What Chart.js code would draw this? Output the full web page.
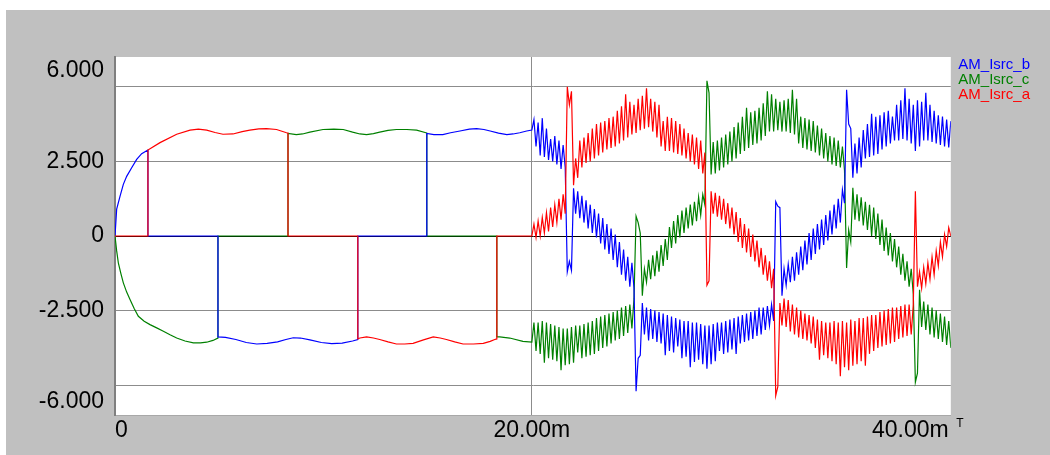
<!DOCTYPE html>
<html>
<head>
<meta charset="utf-8">
<title>AM_Isrc phase currents</title>
<script src="https://cdn.jsdelivr.net/npm/chart.js@4.4.1/dist/chart.umd.min.js"></script>
<style>
  html, body { margin: 0; padding: 0; background: #ffffff; }
  canvas { display: block; }
</style>
</head>
<body>
<canvas id="chart" width="1050" height="455"></canvas>
<script>
// Three phase source currents (A) against time (ms).
const seriesNames  = ['AM_Isrc_b', 'AM_Isrc_c', 'AM_Isrc_a'];
const seriesColors = ['#0000ff', '#008000', '#ff0000'];

const xTickValues = [0, 20, 40];
const xTickLabels = ['0', '20.00m', '40.00m'];
const yTickValues = [-6, -5, -2.5, 0, 2.5, 5, 6];
const yTickLabels = ['-6.000', '', '-2.500', '0', '2.500', '', '6.000'];

// Start-up interval 0..20 ms: smooth block currents with instant hand-overs.
const bStartT = [0, 0.08, 0.24, 0.4, 0.56, 0.8, 1.04, 1.28, 1.58, 1.58,
  4.94, 4.94, 5.3, 5.8, 6.3, 6.8, 7.3, 7.8, 8.2, 8.55,
  8.9, 9.35, 9.9, 10.4, 10.9, 11.4, 11.65, 11.65, 14.96, 14.96,
  15.3, 15.73, 16.1, 16.55, 17.0, 17.35, 17.7, 18.0, 18.4, 18.8,
  19.1, 19.42, 19.75, 20.0];
const bStartI = [0, 0.9, 1.33, 1.73, 2.0, 2.29, 2.57, 2.76, 2.88, 0,
  0, -3.38, -3.4, -3.47, -3.57, -3.62, -3.6, -3.55, -3.47, -3.41,
  -3.42, -3.48, -3.57, -3.61, -3.59, -3.52, -3.47, 0, 0, 3.44,
  3.4, 3.4, 3.46, 3.52, 3.58, 3.6, 3.57, 3.52, 3.45, 3.4,
  3.42, 3.46, 3.52, 3.55];

const cStartT = [0, 0.08, 0.16, 0.28, 0.4, 0.56, 0.72, 0.92, 1.12, 1.4,
  1.68, 2.0, 2.32, 2.64, 2.96, 3.36, 3.76, 4.1, 4.4, 4.7,
  4.94, 4.94, 8.3, 8.3, 8.7, 9.0, 9.35, 9.98, 10.5, 10.95,
  11.4, 11.75, 12.07, 12.4, 12.7, 13.1, 13.5, 14.0, 14.47, 14.92,
  14.96, 14.96, 18.32, 18.32, 18.46, 18.94, 19.57, 20.0];
const cStartI = [0, -0.5, -0.9, -1.25, -1.57, -1.88, -2.13, -2.43, -2.69, -2.86,
  -2.97, -3.08, -3.19, -3.31, -3.42, -3.52, -3.58, -3.58, -3.56, -3.5,
  -3.42, 0, 0, 3.44, 3.4, 3.42, 3.48, 3.57, 3.58, 3.57,
  3.48, 3.42, 3.4, 3.43, 3.48, 3.54, 3.57, 3.57, 3.55, 3.46,
  3.45, 0, 0, -3.38, -3.38, -3.42, -3.53, -3.56];

const aStartT = [0, 1.58, 1.58, 2.16, 2.96, 3.6, 4.0, 4.4, 4.8, 5.18,
  5.66, 6.1, 6.47, 6.9, 7.27, 7.75, 8.23, 8.3, 8.3, 11.65,
  11.65, 11.75, 12.07, 12.4, 12.7, 13.1, 13.5, 13.9, 14.3, 14.8,
  15.27, 15.6, 15.9, 16.3, 16.7, 17.2, 17.67, 18.0, 18.22, 18.32,
  18.32, 20.0];
const aStartI = [0, 0, 2.88, 3.13, 3.41, 3.55, 3.58, 3.55, 3.47, 3.41,
  3.42, 3.5, 3.55, 3.59, 3.6, 3.57, 3.46, 3.45, 0, 0,
  -3.45, -3.42, -3.38, -3.42, -3.47, -3.55, -3.62, -3.62, -3.6, -3.48,
  -3.38, -3.42, -3.47, -3.55, -3.62, -3.62, -3.6, -3.53, -3.47, -3.45,
  0, 0];

// Switching interval: samples every 0.1 ms from 20.1 ms to 40.1 ms.
const rippleT0 = 20.1;
const rippleDt = 0.1;

const bRipple = [
  3.9, 3.0, 3.8, 2.7, 3.95, 2.65, 3.6, 2.55, 3.25, 2.5,
  3.35, 2.4, 3.2, 2.25, 3.05, 2.3, -1.2, -0.85, -1.15, 1.6,
  0.75, 1.5, 0.6, 1.35, 0.45, 1.2, 0.25, 1.05, 0.1, 0.9,
  -0.05, 0.75, -0.25, 0.6, -0.45, 0.4, -0.6, 0.25, -0.8, 0.05,
  -1.05, -0.2, -1.3, -0.45, -1.5, -0.7, -1.7, -0.9, -1.75, -5.2,
  -4.1, -4.0, -2.25, -3.3, -2.4, -3.5, -2.45, -3.45, -2.5, -3.55,
  -2.55, -3.6, -2.6, -4.0, -2.65, -3.85, -2.7, -3.9, -2.75, -3.7,
  -2.8, -4.1, -2.85, -4.05, -2.85, -4.4, -2.9, -4.22, -2.9, -4.15,
  -2.95, -4.3, -3.0, -4.45, -3.0, -4.3, -2.95, -4.2, -2.9, -3.85,
  -2.9, -3.95, -2.85, -3.9, -2.8, -3.8, -2.75, -3.95, -2.7, -3.6,
  -2.65, -3.55, -2.6, -3.5, -2.55, -3.45, -2.5, -3.35, -2.4, -3.3,
  -2.4, -3.15, -2.35, -3.0, -2.3, -2.85, 1.15, 1.0, 0.95, -2.0,
  -1.1, -1.65, -0.95, -1.55, -0.7, -1.5, -0.55, -1.3, -0.35, -1.15,
  -0.15, -0.95, 0.1, -0.8, 0.25, -0.6, 0.4, -0.45, 0.55, -0.3,
  0.7, -0.15, 0.85, 0.05, 1.05, 0.25, 1.25, 0.45, 1.55, 1.1,
  4.9, 3.75, 3.6, 1.95, 3.1, 2.1, 3.3, 2.3, 3.55, 2.6,
  3.75, 2.65, 4.1, 2.7, 4.0, 2.75, 4.05, 2.9, 4.15, 3.0,
  4.2, 3.1, 4.0, 3.2, 4.4, 3.2, 4.55, 3.25, 4.95, 3.2,
  4.6, 3.1, 4.4, 2.85, 4.55, 3.0, 4.5, 3.2, 4.8, 3.2,
  4.4, 3.15, 4.2, 3.1, 4.05, 3.05, 4.0, 3.0, 3.9, 2.97, 3.85];

const cRipple = [
  -2.9, -3.85, -2.9, -3.95, -2.85, -4.25, -2.9, -4.1, -2.95, -4.15,
  -3.0, -4.2, -3.05, -4.5, -3.1, -4.33, -3.1, -4.3, -3.05, -4.25,
  -3.0, -3.9, -3.0, -4.1, -2.95, -4.05, -2.9, -4.0, -2.85, -3.95,
  -2.75, -3.85, -2.7, -3.75, -2.65, -3.7, -2.6, -3.6, -2.55, -3.5,
  -2.5, -3.45, -2.4, -3.35, -2.35, -3.25, -2.3, -3.1, -2.1, 0.66,
  0.45, 0.1, -2.0, -1.1, -1.55, -0.8, -1.45, -0.65, -1.35, -0.5,
  -1.2, -0.3, -1.0, -0.1, -0.8, 0.3, -0.4, 0.5, -0.25, 0.7,
  -0.05, 0.85, 0.1, 0.95, 0.25, 1.05, 0.35, 1.15, 0.5, 1.3,
  0.7, 1.39, 1.05, 5.2, 4.8, 2.06, 3.15, 2.1, 3.2, 2.2,
  3.3, 2.3, 3.4, 2.4, 3.5, 2.5, 3.65, 2.6, 3.8, 2.75,
  4.0, 2.85, 4.3, 2.95, 4.15, 3.05, 4.2, 3.1, 4.3, 3.2,
  4.45, 3.35, 4.85, 3.5, 4.75, 3.5, 4.6, 3.55, 4.5, 3.5,
  4.55, 3.5, 4.6, 3.45, 4.9, 3.4, 4.6, 3.1, 4.0, 2.95,
  3.95, 2.9, 3.9, 2.85, 3.85, 2.8, 3.7, 2.7, 3.6, 2.6,
  3.45, 2.5, 3.35, 2.4, 3.3, 2.35, 3.2, 2.3, 3.0, 2.2,
  -1.07, 0.2, -0.2, 1.62, 0.55, 1.4, 0.5, 1.3, 0.35, 1.15,
  0.2, 1.05, 0.0, 0.95, -0.1, 0.75, -0.3, 0.55, -0.5, 0.28,
  -0.65, 0.1, -0.85, -0.1, -1.05, -0.35, -1.3, -0.6, -1.5, -0.85,
  -1.7, -1.1, -1.95, -4.9, -4.6, -1.8, -3.05, -2.2, -3.15, -2.3,
  -3.3, -2.4, -3.4, -2.5, -3.45, -2.6, -3.55, -2.7, -3.65, -2.85, -3.75];

const aRipple = [
  0.4, -0.05, 0.5, 0.0, 0.62, 0.1, 0.78, 0.15, 0.95, 0.3,
  1.05, 0.45, 1.25, 0.55, 1.4, 0.75, 5.0, 4.4, 4.85, 1.7,
  2.6, 1.95, 3.2, 2.3, 3.3, 2.45, 3.45, 2.5, 3.6, 2.6,
  3.75, 2.7, 3.8, 2.8, 3.85, 2.9, 3.95, 2.95, 4.0, 3.0,
  4.2, 3.1, 4.35, 3.2, 4.75, 3.3, 4.5, 3.4, 4.4, 3.45,
  4.6, 3.55, 4.7, 3.6, 4.95, 3.65, 4.6, 3.5, 4.5, 3.3,
  4.4, 3.0, 3.85, 2.85, 4.0, 2.85, 3.95, 2.8, 3.85, 2.75,
  3.75, 2.7, 3.6, 2.6, 3.45, 2.5, 3.4, 2.4, 3.3, 2.25,
  3.2, 2.1, 2.8, -1.65, -1.5, 1.5, 0.75, 1.45, 0.65, 1.35,
  0.55, 1.25, 0.4, 1.1, 0.25, 0.95, 0.05, 0.8, -0.2, 0.6,
  -0.4, 0.4, -0.55, 0.25, -0.7, 0.05, -0.85, -0.15, -1.05, -0.4,
  -1.3, -0.65, -1.5, -0.85, -1.75, -1.1, -5.35, -5.05, -2.25, -3.0,
  -2.1, -3.05, -2.15, -3.2, -2.3, -3.3, -2.4, -3.4, -2.5, -3.45,
  -2.6, -3.5, -2.65, -3.6, -2.7, -3.75, -2.8, -4.15, -2.85, -4.0,
  -2.9, -4.1, -2.9, -4.2, -2.85, -4.3, -2.9, -4.7, -2.85, -4.4,
  -2.9, -4.5, -2.8, -4.35, -2.85, -4.3, -2.75, -4.2, -2.75, -4.35,
  -2.7, -3.95, -2.65, -3.85, -2.65, -3.75, -2.55, -3.7, -2.5, -3.65,
  -2.45, -3.6, -2.4, -3.55, -2.4, -3.45, -2.35, -3.4, -2.3, -3.35,
  -2.3, -3.3, -2.3, 1.5, -1.7, -1.2, -1.75, -1.05, -1.6, -0.9,
  -1.45, -0.7, -1.3, -0.5, -1.0, -0.2, -0.7, 0.05, -0.35, 0.28, 0.0];

const FONT = "'Liberation Sans', Arial, Helvetica, sans-serif";
const GRID = '#8c8c8c';
const NONE = 'rgba(0,0,0,0)';

function buildPoints(startT, startI, ripple) {
  const pts = startT.map((t, j) => ({ x: t, y: startI[j] }));
  ripple.forEach((v, k) => pts.push({ x: +(rippleT0 + k * rippleDt).toFixed(2), y: v }));
  return pts;
}

const seriesPoints = [
  buildPoints(bStartT, bStartI, bRipple),
  buildPoints(cStartT, cStartI, cRipple),
  buildPoints(aStartT, aStartI, aRipple)
];
// Stacking of the traces: phase a on top, then b, then c.
const seriesOrder = [1, 2, 0];

// Gray panel, white plot area and the time-unit mark.
const framePlugin = {
  id: 'frame',
  beforeDraw(chart) {
    const { ctx, chartArea: a } = chart;
    ctx.save();
    ctx.fillStyle = '#ffffff';
    ctx.fillRect(0, 0, chart.width, chart.height);
    ctx.fillStyle = '#c0c0c0';
    ctx.fillRect(6, 10, chart.width - 6, chart.height - 10);
    ctx.fillStyle = '#ffffff';
    ctx.fillRect(a.left, a.top, a.right - a.left, a.bottom - a.top);
    ctx.restore();
  },
  afterDraw(chart) {
    const { ctx, chartArea: a } = chart;
    ctx.save();
    ctx.fillStyle = '#000000';
    ctx.font = '12px ' + FONT;
    ctx.textAlign = 'center';
    ctx.textBaseline = 'middle';
    ctx.fillText('T', a.right + 9, a.bottom + 9);
    ctx.restore();
  }
};

const yMin = yTickValues[0];
const yMax = yTickValues[yTickValues.length - 1];

new Chart(document.getElementById('chart'), {
  type: 'line',
  data: {
    datasets: seriesNames.map((name, i) => ({
      label: name,
      data: seriesPoints[i],
      order: seriesOrder[i],
      borderColor: seriesColors[i],
      backgroundColor: seriesColors[i],
      borderWidth: 1.2,
      pointRadius: 0,
      tension: 0,
      fill: false
    }))
  },
  options: {
    responsive: false,
    animation: false,
    devicePixelRatio: 1,
    events: [],
    layout: { padding: { left: 0, top: 57, right: 10, bottom: 10 } },
    plugins: {
      legend: {
        position: 'right',
        align: 'start',
        fullSize: false,
        labels: {
          boxWidth: 0,
          boxHeight: 0,
          padding: 0,
          font: { family: FONT, size: 15 },
          generateLabels: (chart) => chart.data.datasets.map((ds, i) => ({
            text: ds.label,
            fontColor: ds.borderColor,
            fillStyle: NONE,
            strokeStyle: NONE,
            lineWidth: 0,
            hidden: false,
            datasetIndex: i
          }))
        }
      },
      tooltip: { enabled: false }
    },
    scales: {
      x: {
        type: 'linear',
        min: 0,
        max: 40.1,
        afterBuildTicks: (s) => { s.ticks = xTickValues.map((v) => ({ value: v })); },
        afterFit: (s) => { s.height = 30; },
        ticks: {
          autoSkip: false,
          maxRotation: 0,
          align: 'inner',
          padding: 2,
          color: '#000000',
          font: { family: FONT, size: 23 },
          callback: (v) => xTickLabels[xTickValues.indexOf(v)]
        },
        grid: {
          drawTicks: false,
          lineWidth: 1,
          color: (c) => (c.tick && c.tick.value === 20 ? GRID : NONE)
        },
        border: { display: true, color: '#a8a8a8', width: 1 }
      },
      y: {
        type: 'linear',
        min: yMin,
        max: yMax,
        afterBuildTicks: (s) => { s.ticks = yTickValues.map((v) => ({ value: v })); },
        afterFit: (s) => { s.width = 115; },
        ticks: {
          autoSkip: false,
          padding: 11,
          color: '#000000',
          font: { family: FONT, size: 23 },
          callback: (v) => {
            const label = yTickLabels[yTickValues.indexOf(v)];
            if (v === yMax) return ['', label];
            if (v === yMin) return [label, ''];
            return label;
          }
        },
        grid: {
          drawTicks: false,
          lineWidth: 1,
          color: (c) => {
            if (!c.tick) return NONE;
            const v = c.tick.value;
            if (v === 0) return '#000000';
            if (v === yMin || v === yMax) return NONE;
            return GRID;
          }
        },
        border: { display: true, color: '#7f7f7f', width: 2 }
      }
    }
  },
  plugins: [framePlugin]
});
</script>
</body>
</html>
